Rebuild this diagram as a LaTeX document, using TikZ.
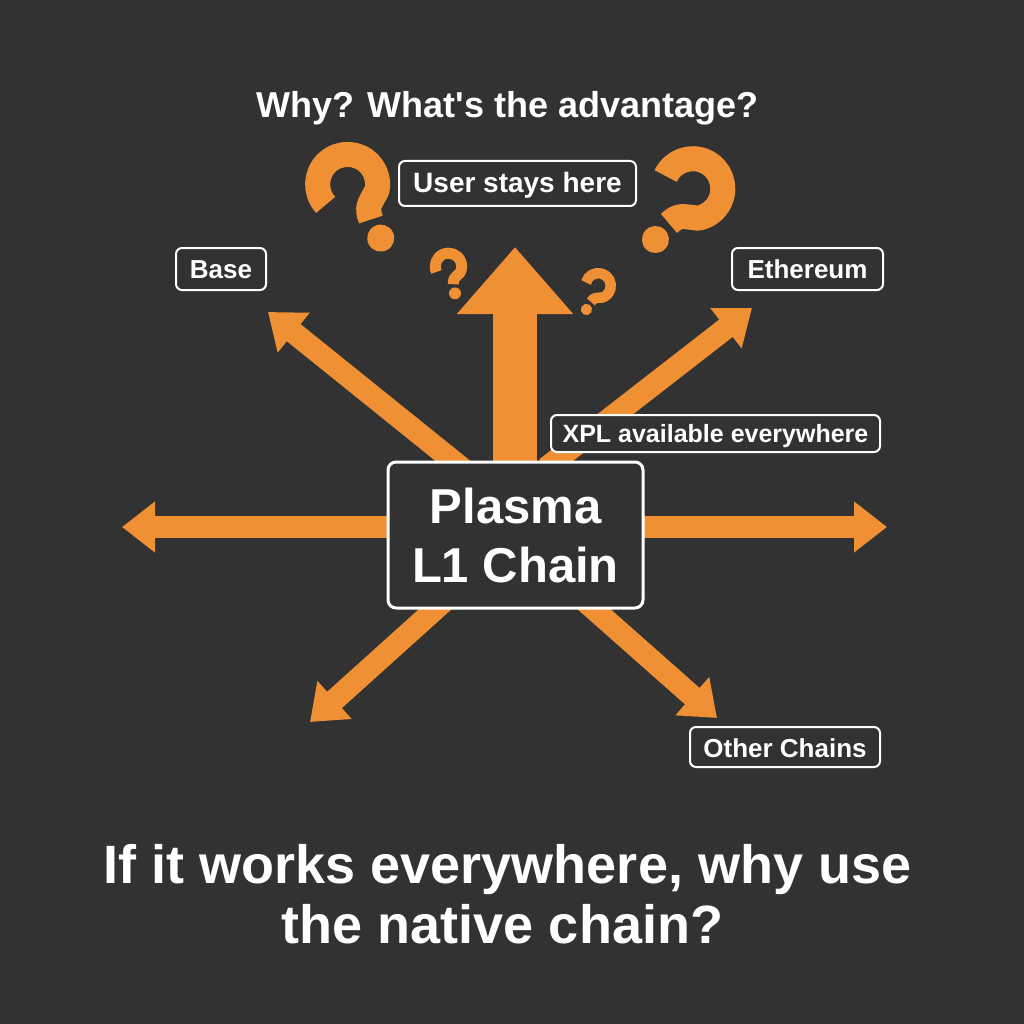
\documentclass[tikz,border=0pt]{standalone}
\usepackage{fontspec}
\newfontfamily\lsans{Liberation Sans}
\usetikzlibrary{arrows.meta}
\definecolor{bg}{HTML}{323232}
\definecolor{orng}{HTML}{EF9035}
\tikzset{
  thinarrow/.style={draw=orng, line width=22pt, -{Triangle[length=33pt,width=49pt]}},
  bigarrow/.style={draw=orng, line width=44pt, -{Triangle[length=67pt,width=112pt]}},
  tag/.style={draw=white, line width=2pt, fill=bg, rounded corners=6pt, text=white,
    font=\lsans\bfseries\fontsize{26}{30}\selectfont, inner sep=0pt, text depth=0pt},
  mainbox/.style={draw=white, line width=3pt, fill=bg, rounded corners=8pt, text=white,
    font=\lsans\bfseries\fontsize{49}{59}\selectfont, inner sep=0pt, align=center},
  headline/.style={anchor=base, text=white, inner sep=0pt},
  qstroke/.style={draw=orng, line cap=butt, line join=round},
}
% decorative question mark: x, y, rotation, unit, stroke width
\newcommand\qmk[5]{%
  \begin{scope}[shift={(#1,#2)}, rotate=#3, x=#4pt, y=#4pt]
    \draw[qstroke, line width=#5pt]
      (-0.29,0.122) arc[start angle=195, end angle=-40, radius=0.3]
      .. controls (0.06,-0.1) .. (0.04,-0.22);
    \fill[orng] (0.04,-0.43) circle[radius=0.135];
  \end{scope}}
\begin{document}
\begin{tikzpicture}[x=1pt,y=-1pt]
\fill[bg] (0,0) rectangle (1024,1024);
\useasboundingbox (0,0) rectangle (1024,1024);

% title
\node[headline, font=\lsans\bfseries\fontsize{36}{40}\selectfont] (title) at (507.5,118) {Why? What's the advantage?};

% question marks
\qmk{357}{202}{28}{100}{25}
\qmk{680}{204}{-40}{100}{25}
\qmk{450}{275}{10}{44}{11}
\qmk{594}{293}{-30}{42}{10.5}

% arrow coordinates
\coordinate (upS) at (515,470);  \coordinate (upT) at (515,247);
\coordinate (lS) at (420,527);   \coordinate (lT) at (122,527);
\coordinate (rS) at (610,527);   \coordinate (rT) at (887,527);
\coordinate (ulS) at (463,469);  \coordinate (ulT) at (268,312);
\coordinate (urS) at (546,468);  \coordinate (urT) at (752,308);
\coordinate (llS) at (451,595);  \coordinate (llT) at (310,722);
\coordinate (lrS) at (578,595);  \coordinate (lrT) at (717,718);

\draw[thinarrow] (ulS) -- (ulT);
\draw[thinarrow] (urS) -- (urT);
\draw[thinarrow] (llS) -- (llT);
\draw[thinarrow] (lrS) -- (lrT);
\draw[thinarrow] (lS) -- (lT);
\draw[thinarrow] (rS) -- (rT);
\draw[bigarrow] (upS) -- (upT);

% labels
\node[tag, minimum width=237pt, minimum height=45pt, text height=19pt,
      font=\lsans\bfseries\fontsize{28}{32}\selectfont] (user) at (517.5,183.5) {User stays here};
\node[tag, minimum width=90pt, minimum height=42pt, text height=18pt] (base) at (221,269) {Base};
\node[tag, minimum width=151pt, minimum height=42pt, text height=18pt] (eth) at (807.5,269) {Ethereum};
\node[tag, minimum width=329pt, minimum height=37pt, text height=17pt,
      font=\lsans\bfseries\fontsize{25}{29}\selectfont] (xpl) at (715.5,433.5) {XPL available everywhere};
\node[tag, minimum width=190pt, minimum height=40pt, text height=20pt] (other) at (785,747) {Other Chains};

\node[mainbox, minimum width=255pt, minimum height=146pt] (plasma) at (515.5,535) {Plasma\\L1 Chain};

% bottom question
\node[headline, font=\lsans\bfseries\fontsize{54}{60}\selectfont] (q1) at (507.5,883) {If it works everywhere, why use};
\node[headline, font=\lsans\bfseries\fontsize{54}{60}\selectfont] (q2) at (502.5,943) {the native chain?};
\end{tikzpicture}
\end{document}
